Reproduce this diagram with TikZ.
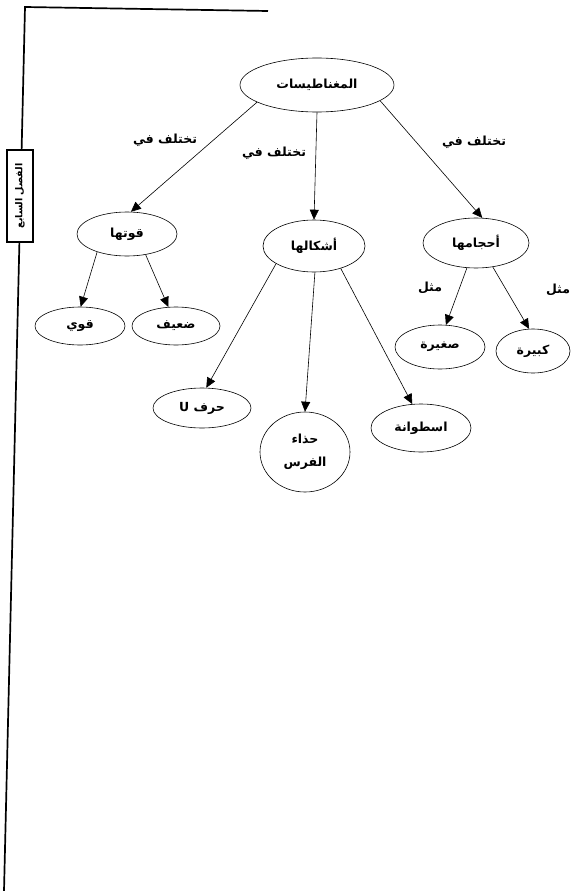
\documentclass[tikz,border=0pt]{standalone}
\usepackage{fontspec}
\usepackage{tikz}
\usetikzlibrary{shapes.geometric, arrows.meta}
\newfontfamily\arabicfont[Script=Arabic]{DejaVu Sans}
\TeXXeTstate=1
\newcommand{\arb}[1]{{\arabicfont\bfseries\beginR #1\endR}}

\begin{document}
\begin{tikzpicture}[x=1pt,y=-1pt,font=\fontsize{12.5}{15}\selectfont,
		bubble/.style={draw,semithick,ellipse,inner sep=0pt},
		arr/.style={-{Triangle[length=10pt,width=9pt]},semithick}]
		\useasboundingbox (0,0) rectangle (574,891);
		% page frame and chapter tab
		\draw[line width=1.7pt] (268,11)--(25,7)--(4,891);
		\node[draw,line width=1.3pt,fill=white,minimum width=26pt,minimum height=92pt,inner sep=0pt] (tab) at (20,196) {};
		\node[rotate=90,font=\fontsize{9.5}{11}\selectfont] (tabtext) at (tab.center) {\arb{الفصل السابع}};
		% main concept
		\node[bubble,minimum width=154pt,minimum height=54pt] (magnet) at (317,85) {\arb{المغناطيسات}};
		% second level
		\node[bubble,minimum width=100pt,minimum height=44pt] (strength) at (127,234) {\arb{قوتها}};
		\node[bubble,minimum width=102pt,minimum height=52pt] (shape) at (314,246) {\arb{أشكالها}};
		\node[bubble,minimum width=106pt,minimum height=50pt] (size) at (476,243) {\arb{أحجامها}};
		% third level
		\node[bubble,minimum width=90pt,minimum height=38pt] (strong) at (80,326) {\arb{قوي}};
		\node[bubble,minimum width=88pt,minimum height=38pt] (weak) at (176,326) {\arb{ضعيف}};
		\node[bubble,minimum width=90pt,minimum height=44pt] (small) at (440,347) {\arb{صغيرة}};
		\node[bubble,minimum width=74pt,minimum height=44pt] (large) at (533,351) {\arb{كبيرة}};
		\node[bubble,minimum width=98pt,minimum height=40pt] (uletter) at (202,408) {\arb{حرف U}};
		\node[bubble,minimum width=90pt,minimum height=80pt,align=center] (horseshoe) at (305,452) {\arb{حذاء}\\[8pt]\arb{الفرس}};
		\node[bubble,minimum width=100pt,minimum height=48pt] (cylinder) at (421,428) {\arb{اسطوانة}};
		% connectors
		\draw[arr] (magnet.196)--(strength.80);
		\draw[arr] (magnet.south)--(shape.north);
		\draw[arr] (magnet.-14)--(size.76);
		\draw[arr] (strength.211)--(strong.88);
		\draw[arr] (strength.312)--(weak.112);
		\draw[arr] (shape.205)--(uletter.78);
		\draw[arr] (shape.272)--(horseshoe.north);
		\draw[arr] (shape.320)--(cylinder.110);
		\draw[arr] (size.250)--(small.75);
		\draw[arr] (size.305)--(large.100);
		% labels on the connectors
		\node (l1) at (165,140) {\arb{تختلف في}};
		\node (l2) at (274,153) {\arb{تختلف في}};
		\node (l3) at (474,142) {\arb{تختلف في}};
		\node (l4) at (430,288) {\arb{مثل}};
		\node (l5) at (558,290) {\arb{مثل}};
	\end{tikzpicture}
\end{document}
